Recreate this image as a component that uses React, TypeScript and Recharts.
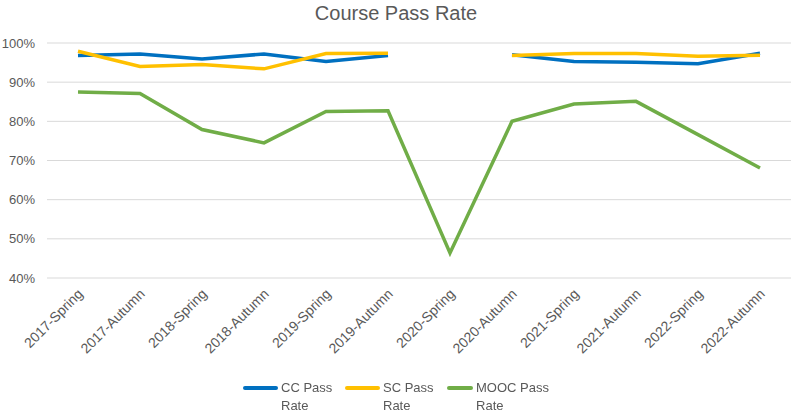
import { CartesianGrid, Legend, Line, LineChart, XAxis, YAxis } from "recharts";

const TERMS = [
  "2017-Spring",
  "2017-Autumn",
  "2018-Spring",
  "2018-Autumn",
  "2019-Spring",
  "2019-Autumn",
  "2020-Spring",
  "2020-Autumn",
  "2021-Spring",
  "2021-Autumn",
  "2022-Spring",
  "2022-Autumn",
];
const CC_PASS = [0.968, 0.972, 0.959, 0.972, 0.953, 0.968, null, 0.97, 0.953, 0.951, 0.947, 0.974];
const SC_PASS = [0.979, 0.94, 0.945, 0.934, 0.973, 0.974, null, 0.968, 0.973, 0.973, 0.966, 0.969];
const MOOC_PASS = [0.875, 0.871, 0.779, 0.745, 0.825, 0.827, 0.464, 0.8, 0.844, 0.851, 0.766, 0.681];
const Y_TICKS = [0.4, 0.5, 0.6, 0.7, 0.8, 0.9, 1.0];

const SERIES = [
  { key: "cc", name: "CC Pass Rate", color: "#0070C0" },
  { key: "sc", name: "SC Pass Rate", color: "#FFC000" },
  { key: "mooc", name: "MOOC Pass Rate", color: "#70AD47" },
];

const TEXT = "#595959";
const GRID = "#D9D9D9";
const FONT = "'Liberation Sans', Arial, sans-serif";

const data = TERMS.map((term, i) => ({
  term,
  cc: CC_PASS[i],
  sc: SC_PASS[i],
  mooc: MOOC_PASS[i],
}));

function AngledTick({ x, y, payload }: any) {
  return (
    <g transform={`translate(${x + 3},${y + 12})`}>
      <text
        x={0}
        y={0}
        dy={4}
        textAnchor="end"
        fill={TEXT}
        fontSize={14}
        fontFamily={FONT}
        transform="rotate(-45)"
      >
        {payload.value}
      </text>
    </g>
  );
}

// legend labels wrap onto two lines like the original
function WrappedLegend() {
  return (
    <div
      style={{
        display: "flex",
        justifyContent: "center",
        fontFamily: FONT,
        fontSize: 13,
        color: TEXT,
      }}
    >
      {SERIES.map((s) => {
        const words = s.name.split(" ");
        const line1 = words.slice(0, words.length - 1).join(" ");
        const line2 = words[words.length - 1];
        return (
          <div key={s.key} style={{ display: "flex", alignItems: "flex-start", width: 102 }}>
            <span
              style={{
                display: "inline-block",
                width: 35,
                height: 4,
                marginTop: 7,
                marginRight: 3,
                borderRadius: 2,
                backgroundColor: s.color,
              }}
            />
            <span style={{ lineHeight: "18px", whiteSpace: "nowrap" }}>
              {line1}
              <br />
              {line2}
            </span>
          </div>
        );
      })}
    </div>
  );
}

export default function App() {
  return (
    <div style={{ position: "fixed", left: 0, top: 0, width: 792, height: 412, background: "#fff" }}>
      <div
        style={{
          position: "absolute",
          top: 0,
          width: 792,
          textAlign: "center",
          fontFamily: FONT,
          fontSize: 20,
          color: TEXT,
          lineHeight: "26px",
        }}
      >
        Course Pass Rate
      </div>
      <LineChart
        width={792}
        height={412}
        data={data}
        margin={{ top: 43, right: 1, left: 0, bottom: 0 }}
      >
        <CartesianGrid vertical={false} stroke={GRID} strokeWidth={1} />
        <XAxis
          dataKey="term"
          interval={0}
          tick={<AngledTick />}
          tickLine={false}
          axisLine={false}
          tickSize={0}
          padding={{ left: 31, right: 31 }}
          height={98}
        />
        <YAxis
          domain={[0.4, 1]}
          ticks={Y_TICKS}
          width={47}
          tickLine={false}
          axisLine={false}
          tickSize={0}
          tickMargin={12}
          tick={{ fill: TEXT, fontSize: 13, fontFamily: FONT }}
          tickFormatter={(v: number) => `${Math.round(v * 100)}%`}
        />
        <Legend
          verticalAlign="bottom"
          content={<WrappedLegend />}
          wrapperStyle={{ left: 0, width: 792, bottom: -3 }}
        />
        {SERIES.map((s) => (
          <Line
            key={s.key}
            type="linear"
            dataKey={s.key}
            name={s.name}
            stroke={s.color}
            strokeWidth={3.5}
            dot={false}
            activeDot={false}
            connectNulls={false}
            isAnimationActive={false}
          />
        ))}
      </LineChart>
    </div>
  );
}
